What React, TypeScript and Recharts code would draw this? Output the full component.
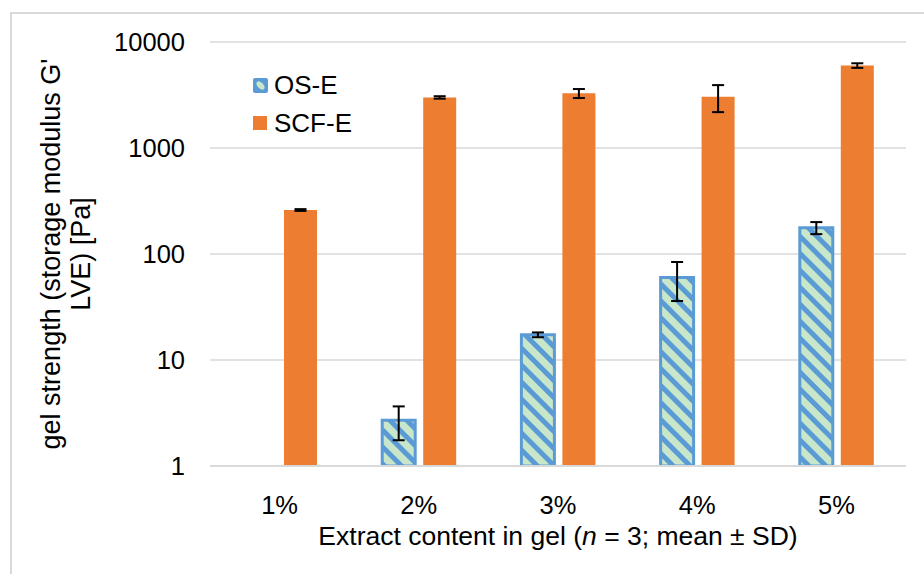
import { BarChart, Bar, XAxis, YAxis, CartesianGrid, ErrorBar, Legend, Label } from 'recharts'

const categories = ['1%', '2%', '3%', '4%', '5%']
const osE = [null, 2.7, 17.3, 60, 177]
const osESd = [null, 0.95, 0.9, 24, 23]
const scfE = [260, 3000, 3280, 3050, 6000]
const scfESd = [5, 80, 320, 870, 300]
const yTicks = [1, 10, 100, 1000, 10000]

const data = categories.map((pct, i) => ({
  pct,
  osE: osE[i],
  osESd: osESd[i],
  scfE: scfE[i],
  scfESd: scfESd[i],
}))

const FONT = '"Liberation Sans", Arial, sans-serif'
const BLUE = '#5B9BD5'
const GREEN = '#C8E6CA'
const ORANGE = '#ED7D31'
const GRID = '#D9D9D9'

function LegendBox() {
  const row = { display: 'flex', alignItems: 'center', height: 38 }
  const text = { fontSize: 26, color: '#000', marginLeft: 6, lineHeight: '26px' }
  return (
    <div style={{ fontFamily: FONT }}>
      <div style={row}>
        <svg width={15} height={15}>
          <rect x={0} y={0} width={15} height={15} rx={2} fill={BLUE} />
          <ellipse cx={7.5} cy={7.5} rx={5} ry={3} fill={GREEN} transform="rotate(45 7.5 7.5)" />
        </svg>
        <span style={text}>OS-E</span>
      </div>
      <div style={row}>
        <svg width={15} height={15}>
          <rect x={0} y={0} width={14} height={14} fill={ORANGE} />
        </svg>
        <span style={text}>SCF-E</span>
      </div>
    </div>
  )
}

// two-line rotated title, centred on the plot height
function YTitle({ viewBox }: any) {
  const cy = viewBox.y + viewBox.height / 2
  return (
    <text
      transform={`translate(60,${cy}) rotate(-90)`}
      textAnchor="middle"
      fontSize={27}
      fill="#000"
      fontFamily={FONT}
    >
      <tspan x={0} dy={0}>gel strength (storage modulus G'</tspan>
      <tspan x={0} dy={30}>LVE) [Pa]</tspan>
    </text>
  )
}

function XTitle({ viewBox }: any) {
  const cx = viewBox.x + viewBox.width / 2
  return (
    <text x={cx} y={545} textAnchor="middle" fontSize={26.5} fill="#000" fontFamily={FONT}>
      Extract content in gel (<tspan fontStyle="italic">n</tspan> = 3; mean ± SD)
    </text>
  )
}

export default function App() {
  return (
    <div style={{ position: 'absolute', left: 0, top: 0, width: 924, height: 574, overflow: 'hidden', background: '#fff' }}>
      <div
        style={{
          position: 'absolute',
          left: 10,
          top: 12,
          width: 1000,
          height: 700,
          border: `2px solid ${GRID}`,
        }}
      />
      <div style={{ position: 'absolute', left: 0, top: 0 }}>
        <BarChart
          width={924}
          height={574}
          data={data}
          margin={{ top: 42, right: 18, bottom: 48, left: 150 }}
          barSize={33}
          barGap={8}
          style={{ fontFamily: FONT }}
        >
          <defs>
            <pattern
              id="osHatch"
              patternUnits="userSpaceOnUse"
              width={12}
              height={12}
              patternTransform="rotate(-45)"
            >
              <rect x={0} y={0} width={12} height={12} fill={GREEN} />
              <rect x={0} y={0} width={5} height={12} fill={BLUE} />
            </pattern>
          </defs>
          <CartesianGrid vertical={false} stroke={GRID} strokeWidth={1.5} />
          <XAxis
            dataKey="pct"
            height={60}
            axisLine={{ stroke: GRID, strokeWidth: 2 }}
            tickLine={false}
            tickSize={0}
            tickMargin={30}
            tick={{ fontSize: 25.5, fill: '#000' }}
          >
            <Label content={<XTitle />} />
          </XAxis>
          <YAxis
            type="number"
            scale="log"
            domain={[1, 10000]}
            ticks={yTicks}
            allowDataOverflow
            width={60}
            axisLine={false}
            tickLine={false}
            tickSize={0}
            tickMargin={25}
            tick={{ fontSize: 25.5, fill: '#000' }}
          >
            <Label content={<YTitle />} />
          </YAxis>
          <Legend
            layout="horizontal"
            verticalAlign="middle"
            align="center"
            content={<LegendBox />}
            wrapperStyle={{ left: 253, top: 66, width: 160 }}
          />
          <Bar dataKey="osE" name="OS-E" fill="url(#osHatch)" stroke={BLUE} strokeWidth={3} isAnimationActive={false}>
            <ErrorBar dataKey="osESd" width={6} stroke="#000" strokeWidth={2} />
          </Bar>
          <Bar dataKey="scfE" name="SCF-E" fill={ORANGE} isAnimationActive={false}>
            <ErrorBar dataKey="scfESd" width={6} stroke="#000" strokeWidth={2} />
          </Bar>
        </BarChart>
      </div>
    </div>
  )
}
